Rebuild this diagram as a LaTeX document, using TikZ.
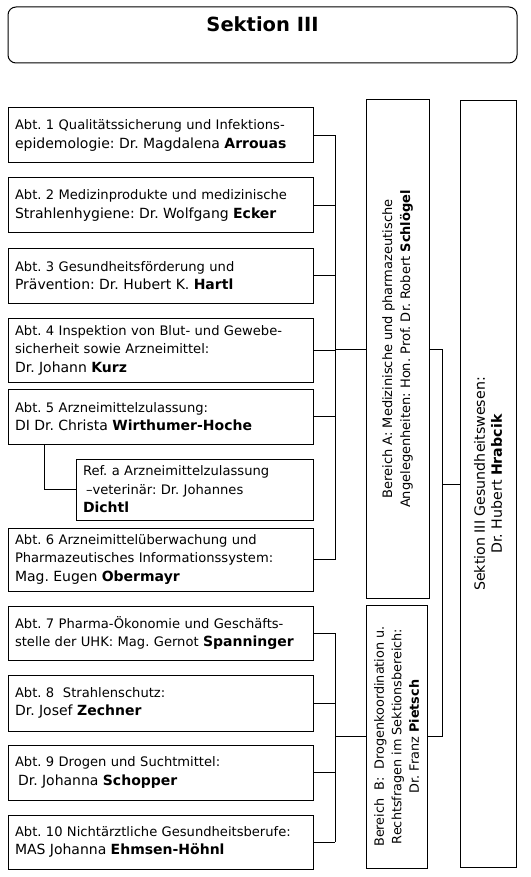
\documentclass[tikz,border=0pt]{standalone}
\usepackage{fontspec}
\setmainfont{DejaVu Sans}
\usetikzlibrary{positioning, calc}
\frenchspacing
\newcommand{\txtsmall}{\fontsize{13.1}{18.5}\selectfont}
\newcommand{\txtbig}{\fontsize{14}{18.5}\selectfont}
\begin{document}
\begin{tikzpicture}[
    x=1pt, y=-1pt,
    line width=1pt,
    titlebox/.style={draw, rectangle, rounded corners=8pt, minimum width=509pt, minimum height=56pt, font=\bfseries\fontsize{19.5}{22}\selectfont, text height=14pt, text depth=20pt},
    abt/.style={draw, rectangle, minimum width=305pt, text width=291pt, inner xsep=7pt, align=left, font=\txtsmall},
    bereich/.style={draw, rectangle, rotate=90, align=center, font=\fontsize{13}{18}\selectfont}
]
    \useasboundingbox (0,0) rectangle (530,877);

    % Title
    \node[titlebox] (sektion) at (262.5,35) {Sektion III};

    % Abteilungen, Bereich A
    \node[abt, minimum height=55pt] (abt1) at (160.5,135.5) {Abt. 1 Qualitätssicherung und Infektions-\\{\txtbig epidemologie: Dr. Magdalena \textbf{Arrouas}}};
    \node[abt, minimum height=55pt] (abt2) at (160.5,205.5) {Abt. 2 Medizinprodukte und medizinische\\{\txtbig Strahlenhygiene: Dr. Wolfgang \textbf{Ecker}}};
    \node[abt, minimum height=55pt] (abt3) at (160.5,275.5) {Abt. 3 Gesundheitsförderung und\\{\txtbig Prävention: Dr. Hubert K. \textbf{Hartl}}};
    \node[abt, minimum height=64pt] (abt4) at (160.5,350) {Abt. 4 Inspektion von Blut- und Gewebe-\\sicherheit sowie Arzneimittel:\\{\txtbig Dr. Johann \textbf{Kurz}}};
    \node[abt, minimum height=55pt] (abt5) at (160.5,416.5) {Abt. 5 Arzneimittelzulassung:\\{\txtbig DI Dr. Christa \textbf{Wirthumer-Hoche}}};
    \node[abt, minimum height=61pt, minimum width=237pt, text width=223pt] (refa) at (194.5,489.5) {Ref. a Arzneimittelzulassung\\\hspace{3pt}--veterinär: Dr. Johannes\\{\txtbig\textbf{Dichtl}}};
    \node[abt, minimum height=63pt] (abt6) at (160.5,559.5) {Abt. 6 Arzneimittelüberwachung und\\Pharmazeutisches Informationssystem:\\{\txtbig Mag. Eugen \textbf{Obermayr}}};

    % Abteilungen, Bereich B
    \node[abt, minimum height=54pt] (abt7) at (160.5,633) {Abt. 7 Pharma-Ökonomie und Geschäfts-\\stelle der UHK: Mag. Gernot {\txtbig\textbf{Spanninger}}};
    \node[abt, minimum height=56pt] (abt8) at (160.5,703) {Abt. 8 \ Strahlenschutz:\\{\txtbig Dr. Josef \textbf{Zechner}}};
    \node[abt, minimum height=55pt] (abt9) at (160.5,772.5) {Abt. 9 Drogen und Suchtmittel:\\{\txtbig\hspace{3pt}Dr. Johanna \textbf{Schopper}}};
    \node[abt, minimum height=54pt] (abt10) at (160.5,842) {Abt. 10 Nichtärztliche Gesundheitsberufe:\\{\txtbig MAS Johanna \textbf{Ehmsen-Höhnl}}};

    % Bereiche and Sektionsleitung (rotated)
    \node[bereich, minimum width=498pt, minimum height=63pt] (bereichA) at (397.5,349) {Bereich A: Medizinische und pharmazeutische\\Angelegenheiten: Hon. Prof. Dr. Robert \textbf{Schlögel}};
    \node[bereich, minimum width=263pt, minimum height=61pt, font=\fontsize{12.8}{17.5}\selectfont] (bereichB) at (396.5,736.5) {Bereich \ B: \ Drogenkoordination u.\\Rechtsfragen im Sektionsbereich:\\Dr. Franz \textbf{Pietsch}};
    \node[bereich, minimum width=766pt, minimum height=56pt, font=\fontsize{14.2}{17}\selectfont] (leitung) at (488,484) {Sektion III Gesundheitswesen:\\Dr. Hubert \textbf{Hrabcik}};

    \coordinate (busA) at (335,0);
    \coordinate (busC) at (442,0);

    % Connections to Bereich A
    \foreach \n in {1,...,6}
        \draw (abt\n.east) -- (abt\n.east -| busA);
    \draw (abt1.east -| busA) -- (abt6.east -| busA);
    \draw (bereichA.center -| busA) -- (bereichA);
    \draw ([xshift=37pt]abt5.south west) |- (refa.west);

    % Connections to Bereich B
    \foreach \n in {7,...,10}
        \draw (abt\n.east) -- (abt\n.east -| busA);
    \draw (abt7.east -| busA) -- (abt10.east -| busA);
    \draw (bereichB.center -| busA) -- (bereichB);

    % Bereiche to Sektionsleitung
    \draw (bereichA) -- (bereichA.center -| busC) -- (bereichB.center -| busC) -- (bereichB);
    \draw (leitung.center -| busC) -- (leitung);

\end{tikzpicture}
\end{document}
